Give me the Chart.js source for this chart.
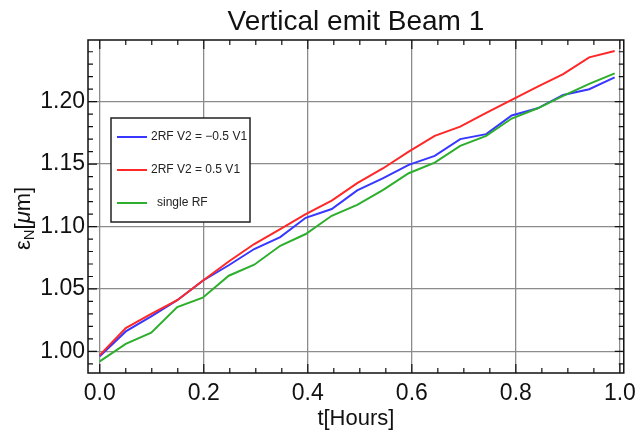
<!DOCTYPE html>
<html>
<head>
<meta charset="utf-8">
<script src="https://cdn.jsdelivr.net/npm/chart.js@4.4.0/dist/chart.umd.min.js"></script>
<style>
  html, body { margin: 0; padding: 0; background: #fff; }
</style>
</head>
<body>
<canvas id="emitChart" width="643" height="436"></canvas>
<script>
// time in hours, one sample per ~0.05 h
var hours = [0, 0.050, 0.099, 0.149, 0.198, 0.248, 0.297, 0.347, 0.396, 0.446, 0.495,
             0.545, 0.594, 0.644, 0.693, 0.743, 0.792, 0.842, 0.891, 0.941, 0.990];

// normalised vertical emittance [um]
var emitMinus = [0.996, 1.016, 1.028, 1.041, 1.0566, 1.069, 1.082, 1.0915, 1.107, 1.114, 1.129,
                 1.1387, 1.1494, 1.1566, 1.170, 1.174, 1.189, 1.1947, 1.2054, 1.210, 1.2195];
var emitPlus = [0.997, 1.0187, 1.030, 1.041, 1.0566, 1.072, 1.086, 1.098, 1.110, 1.1208, 1.1347,
                1.1467, 1.160, 1.1726, 1.180, 1.191, 1.2014, 1.212, 1.222, 1.2355, 1.2406];
var emitSingle = [0.992, 1.006, 1.015, 1.0355, 1.043, 1.0606, 1.0694, 1.0846, 1.094, 1.1086, 1.1174,
                  1.1294, 1.1427, 1.1512, 1.1646, 1.1726, 1.1865, 1.1947, 1.2046, 1.2142, 1.2227];

var seriesLabels = ['2RF V2 = \u22120.5 V1', '2RF V2 = 0.5 V1', 'single RF'];
var seriesColors = ['rgb(55,55,255)', 'rgb(255,40,40)', 'rgb(45,175,45)'];

var xTickValues = [0, 0.2, 0.4, 0.6, 0.8, 1.0];
var yTickValues = [1.00, 1.05, 1.10, 1.15, 1.20];

function toPoints(xs, ys) {
    return xs.map(function (x, i) { return { x: x, y: ys[i] }; });
}

// frame with inward ticks, the boxed legend and the y title
var framePlugin = {
    id: 'frameTicks',
    afterDraw: function (chart) {
        var ctx = chart.ctx;
        var a = chart.chartArea;
        var xs = chart.scales.x, ys = chart.scales.y;
        ctx.save();
        ctx.strokeStyle = '#111';
        ctx.lineWidth = 1.5;
        ctx.strokeRect(a.left, a.top, a.right - a.left, a.bottom - a.top);

        ctx.lineWidth = 1.2;
        ctx.beginPath();
        var v, p, len;
        for (v = 0; v <= 1.0001; v += 0.05) {
            p = xs.getPixelForValue(v);
            len = Math.abs(v / 0.2 - Math.round(v / 0.2)) < 0.01 ? 9 : 5;
            ctx.moveTo(p, a.bottom); ctx.lineTo(p, a.bottom - len);
            ctx.moveTo(p, a.top); ctx.lineTo(p, a.top + len);
        }
        for (v = 0.99; v <= 1.2401; v += 0.01) {
            p = ys.getPixelForValue(v);
            len = Math.abs(v / 0.05 - Math.round(v / 0.05)) < 0.01 ? 9 : 5;
            ctx.moveTo(a.left, p); ctx.lineTo(a.left + len, p);
            ctx.moveTo(a.right, p); ctx.lineTo(a.right - len, p);
        }
        ctx.stroke();

        // legend box
        var bx = a.left + 23, by = a.top + 78, bw = 139, bh = 104;
        ctx.fillStyle = '#fff';
        ctx.fillRect(bx, by, bw, bh);
        ctx.strokeStyle = '#222';
        ctx.lineWidth = 1.5;
        ctx.strokeRect(bx, by, bw, bh);
        ctx.font = '12px "Liberation Sans", Arial, sans-serif';
        ctx.textBaseline = 'middle';
        ctx.textAlign = 'left';
        chart.data.datasets.forEach(function (ds, i) {
            var ry = by + 19 + i * 33;
            ctx.strokeStyle = ds.borderColor;
            ctx.lineWidth = 2;
            ctx.beginPath();
            ctx.moveTo(bx + 6, ry); ctx.lineTo(bx + 36, ry);
            ctx.stroke();
            ctx.fillStyle = '#222';
            ctx.fillText(ds.label, bx + 40 + (i === 2 ? 6 : 0), ry);
        });

        // y axis title: eps_N [mu m]
        var parts = [
            { t: '\u03b5', f: '22px', dy: 0 },
            { t: 'N', f: '15px', dy: 4 },
            { t: '[', f: '22px', dy: 0 },
            { t: '\u03bc', f: 'italic 22px', dy: 0 },
            { t: 'm]', f: '22px', dy: 0 }
        ];
        var fam = ' "Liberation Sans", Arial, sans-serif';
        var total = 0;
        parts.forEach(function (pt) { ctx.font = pt.f + fam; pt.w = ctx.measureText(pt.t).width; total += pt.w; });
        ctx.translate(30, (a.top + a.bottom) / 2 + 12);
        ctx.rotate(-Math.PI / 2);
        ctx.fillStyle = '#111';
        ctx.textBaseline = 'alphabetic';
        var cx = -total / 2;
        parts.forEach(function (pt) {
            ctx.font = pt.f + fam;
            ctx.fillText(pt.t, cx, pt.dy);
            cx += pt.w;
        });
        ctx.restore();
    }
};

var ctx = document.getElementById('emitChart').getContext('2d');
var emitChart = new Chart(ctx, {
    type: 'line',
    data: {
        datasets: [
            { label: seriesLabels[0], data: toPoints(hours, emitMinus), borderColor: seriesColors[0], order: 3 },
            { label: seriesLabels[1], data: toPoints(hours, emitPlus), borderColor: seriesColors[1], order: 2 },
            { label: seriesLabels[2], data: toPoints(hours, emitSingle), borderColor: seriesColors[2], order: 1 }
        ]
    },
    options: {
        responsive: false,
        animation: false,
        layout: { padding: { left: 0, right: 14, top: 0, bottom: 0 } },
        elements: {
            line: { borderWidth: 2, tension: 0, fill: false },
            point: { radius: 0 }
        },
        plugins: {
            legend: { display: false },
            tooltip: { enabled: false },
            title: {
                display: true,
                fullSize: false,
                text: 'Vertical emit Beam 1',
                color: '#111',
                font: { family: '"Liberation Sans", Arial, sans-serif', size: 28, weight: 'normal', lineHeight: 1.2 },
                padding: { top: 5, bottom: 1.4 }
            }
        },
        scales: {
            x: {
                type: 'linear',
                min: -0.0226,
                max: 1.0075,
                afterBuildTicks: function (scale) {
                    scale.ticks = xTickValues.map(function (v) { return { value: v }; });
                },
                afterFit: function (scale) { scale.height = 63; },
                grid: { color: '#8c8c8c', lineWidth: 1.3, drawTicks: false },
                border: { display: false },
                ticks: {
                    padding: 7,
                    color: '#111',
                    font: { family: '"Liberation Sans", Arial, sans-serif', size: 23 },
                    callback: function (v) { return v.toFixed(1); }
                },
                title: {
                    display: true,
                    text: 't[Hours]',
                    color: '#111',
                    font: { family: '"Liberation Sans", Arial, sans-serif', size: 22 },
                    padding: { top: 4, bottom: 4 }
                }
            },
            y: {
                type: 'linear',
                min: 0.9827,
                max: 1.2494,
                afterBuildTicks: function (scale) {
                    scale.ticks = yTickValues.map(function (v) { return { value: v }; });
                },
                afterFit: function (scale) { scale.width = 88; },
                grid: { color: '#8c8c8c', lineWidth: 1.3, drawTicks: false },
                border: { display: false },
                ticks: {
                    padding: 3,
                    color: '#111',
                    font: { family: '"Liberation Sans", Arial, sans-serif', size: 23 },
                    callback: function (v) { return v.toFixed(2); }
                }
            }
        }
    },
    plugins: [framePlugin]
});
</script>
</body>
</html>
